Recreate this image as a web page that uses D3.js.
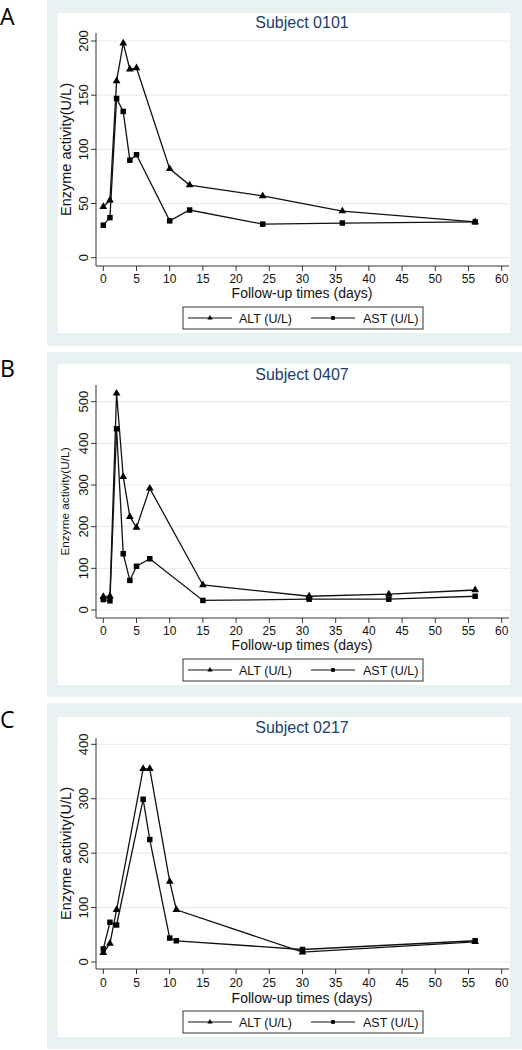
<!DOCTYPE html>
<html><head><meta charset="utf-8">
<script src="https://cdn.jsdelivr.net/npm/d3@7"></script>
<style>
html,body{margin:0;padding:0;background:#fff;}
svg{display:block;}
</style></head>
<body>
<script>
// ---- Data ----
const xTicks = [0,5,10,15,20,25,30,35,40,45,50,55,60];
const seriesNames = ["ALT (U/L)", "AST (U/L)"];
const xTitle = "Follow-up times (days)";
const yTitle = "Enzyme activity(U/L)";

const panelLetters = ["A","B","C"];
const panelTitles = ["Subject 0101","Subject 0407","Subject 0217"];

const daysA = [0,1,2,3,4,5,10,13,24,36,56];
const altA  = [47,53,163,198,174,175,82,67,57,43,33];
const astA  = [30,37,147,135,90,95,34,44,31,32,33];
const yTicksA = [0,50,100,150,200];

const daysB = [0,1,2,3,4,5,7,15,31,43,56];
const altB  = [32,33,520,320,224,198,292,60,33,38,48];
const astB  = [25,22,435,135,71,105,123,23,26,26,33];
const yTicksB = [0,100,200,300,400,500];

const daysC = [0,1,2,6,7,10,11,30,56];
const altC  = [17,34,96,355,355,148,96,18,37];
const astC  = [24,73,68,299,225,44,39,23,39];
const yTicksC = [0,100,200,300,400];

// ---- Layout ----
const W = 522, H = 1050;
const svg = d3.select("body").append("svg").attr("width", W).attr("height", H);
const FONT = "'Liberation Sans', Arial, sans-serif";
const BG = "#eaf1f2", GRID = "#e6eef0", NAVY = "#1a3d6d";

const panels = [
  {letter:panelLetters[0], title:panelTitles[0], days:daysA, alt:altA, ast:astA, yTicks:yTicksA,
   bg:[0,346], inner:[13,333], axisTop:33, axisY:266, y0:257.7, yMaxPx:41, yMax:200, ytFont:14.5,
   titleY:28, tickY:282.5, xlabY:298, leg:[307,329], letterY:25},
  {letter:panelLetters[1], title:panelTitles[1], days:daysB, alt:altB, ast:astB, yTicks:yTicksB,
   bg:[352,697], inner:[364,685], axisTop:385, axisY:618, y0:610, yMaxPx:401.7, yMax:500, ytFont:11.8,
   titleY:380, tickY:634.5, xlabY:650, leg:[659,681], letterY:377},
  {letter:panelLetters[2], title:panelTitles[2], days:daysC, alt:altC, ast:astC, yTicks:yTicksC,
   bg:[703,1049], inner:[717,1037], axisTop:738, axisY:969, y0:962, yMaxPx:744.3, yMax:400, ytFont:14.5,
   titleY:733, tickY:986.5, xlabY:1002.5, leg:[1011,1033], letterY:728}
];

const xLeft = 96, xRight = 509;
const x = d3.scaleLinear().domain([0,60]).range([103.3, 501.7]);

const triangle = d3.symbol().type(d3.symbolTriangle).size(26);
const square = d3.symbol().type(d3.symbolSquare).size(30);
const triSmall = d3.symbol().type(d3.symbolTriangle).size(12);
const sqSmall = d3.symbol().type(d3.symbolSquare).size(14);

panels.forEach(p => {
  const g = svg.append("g");
  // outer background
  g.append("rect").attr("x",47).attr("y",p.bg[0]).attr("width",W-47).attr("height",p.bg[1]-p.bg[0]).attr("fill",BG);
  g.append("rect").attr("x",58).attr("y",p.inner[0]).attr("width",510-58).attr("height",p.inner[1]-p.inner[0]).attr("fill","#fff");
  // letter
  svg.append("text").attr("x",0).attr("y",p.letterY).attr("font-family","'Open Sans', sans-serif")
    .attr("font-size",23).attr("fill","#000").text(p.letter);

  const y = d3.scaleLinear().domain([0,p.yMax]).range([p.y0, p.yMaxPx]);

  // gridlines
  g.selectAll(".grid").data(p.yTicks).enter().append("line")
    .attr("x1",xLeft).attr("x2",xRight).attr("y1",d=>y(d)).attr("y2",d=>y(d))
    .attr("stroke",GRID).attr("stroke-width",1.2);

  // axes lines
  g.append("line").attr("x1",xLeft).attr("x2",xLeft).attr("y1",p.axisTop).attr("y2",p.axisY).attr("stroke","#333").attr("stroke-width",1);
  g.append("line").attr("x1",xLeft).attr("x2",xRight).attr("y1",p.axisY).attr("y2",p.axisY).attr("stroke","#333").attr("stroke-width",1);

  // y ticks and labels
  p.yTicks.forEach(t => {
    g.append("line").attr("x1",xLeft-5).attr("x2",xLeft).attr("y1",y(t)).attr("y2",y(t)).attr("stroke","#333");
    g.append("text").attr("transform",`translate(88,${y(t)}) rotate(-90)`).attr("text-anchor","middle")
      .attr("font-family",FONT).attr("font-size",13).attr("fill","#111").text(t);
  });
  // x ticks and labels
  xTicks.forEach(t => {
    g.append("line").attr("x1",x(t)).attr("x2",x(t)).attr("y1",p.axisY).attr("y2",p.axisY+5).attr("stroke","#333");
    g.append("text").attr("x",x(t)).attr("y",p.tickY).attr("text-anchor","middle")
      .attr("font-family",FONT).attr("font-size",12).attr("fill","#111").text(t);
  });

  // titles
  g.append("text").attr("x",302).attr("y",p.titleY).attr("text-anchor","middle").attr("font-family",FONT)
    .attr("font-size",16).attr("fill",NAVY).text(p.title);
  g.append("text").attr("x",302).attr("y",p.xlabY).attr("text-anchor","middle").attr("font-family",FONT)
    .attr("font-size",14).attr("fill","#111").text(xTitle);
  const ymid = (p.axisTop + p.axisY)/2;
  g.append("text").attr("transform",`translate(${p.ytFont>13?71:69},${ymid}) rotate(-90)`).attr("text-anchor","middle")
    .attr("font-family",FONT).attr("font-size",p.ytFont).attr("fill","#111").text(yTitle);

  // lines
  const line = d3.line().x(d=>x(d[0])).y(d=>y(d[1]));
  const altPts = p.days.map((d,i)=>[d,p.alt[i]]);
  const astPts = p.days.map((d,i)=>[d,p.ast[i]]);
  g.append("path").datum(altPts).attr("d",line).attr("fill","none").attr("stroke","#111").attr("stroke-width",1.3);
  g.append("path").datum(astPts).attr("d",line).attr("fill","none").attr("stroke","#111").attr("stroke-width",1.3);
  g.selectAll(".ta").data(altPts).enter().append("path").attr("d",triangle)
    .attr("transform",d=>`translate(${x(d[0])},${y(d[1])})`).attr("fill","#000");
  g.selectAll(".sa").data(astPts).enter().append("path").attr("d",square)
    .attr("transform",d=>`translate(${x(d[0])},${y(d[1])})`).attr("fill","#000");

  // legend
  const lt = p.leg[0], lb = p.leg[1], lm = (lt+lb)/2;
  g.append("rect").attr("x",183).attr("y",lt).attr("width",240).attr("height",lb-lt).attr("fill","#fff").attr("stroke","#333").attr("stroke-width",1);
  const items = [{x1:188,x2:232,sym:triSmall,tx:239},{x1:311,x2:355,sym:sqSmall,tx:363}];
  items.forEach((it,i)=>{
    g.append("line").attr("x1",it.x1).attr("x2",it.x2).attr("y1",lm).attr("y2",lm).attr("stroke","#111").attr("stroke-width",1.2);
    g.append("path").attr("d",it.sym).attr("transform",`translate(${(it.x1+it.x2)/2},${lm})`).attr("fill","#000");
    g.append("text").attr("x",it.tx).attr("y",lm+4.5).attr("font-family",FONT).attr("font-size",12.5).attr("fill","#111").text(seriesNames[i]);
  });
});
</script>
</body></html>
